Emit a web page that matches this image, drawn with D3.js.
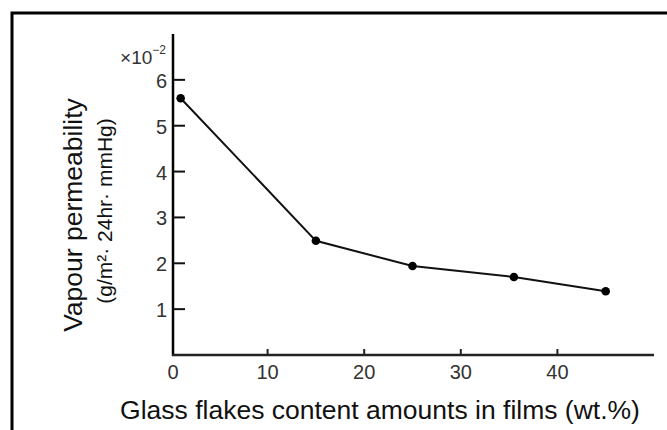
<!DOCTYPE html>
<html><head><meta charset="utf-8">
<script src="https://cdn.jsdelivr.net/npm/d3@7"></script>
<style>body{margin:0;background:#fff;}svg{display:block;font-family:"Liberation Sans",Arial,sans-serif;}</style>
</head><body>
<svg id="c" width="667" height="430"></svg>
<script>
const glassContent = [1, 15, 25, 35.5, 45];
const permeability = [5.6, 2.49, 1.94, 1.7, 1.39];
const xTicks = [0, 10, 20, 30, 40];
const yTicks = [1, 2, 3, 4, 5, 6];
const xTitle = "Glass flakes content amounts in films (wt.%)";
const yTitle1 = "Vapour permeability";
const yTitle2 = "(g/m²· 24hr· mmHg)";

const svg = d3.select("#c");
svg.append("rect").attr("x",12).attr("y",13).attr("width",700).attr("height",500)
  .attr("fill","none").attr("stroke","#000").attr("stroke-width",3);

const x = d3.scaleLinear().domain([0,50]).range([171,654]);
const y = d3.scaleLinear().domain([0,7]).range([355,34]);
const x0 = 173;

svg.append("line").attr("x1",x0).attr("x2",x0).attr("y1",y(7)).attr("y2",y(0)+1)
  .attr("stroke","#000").attr("stroke-width",2.5);
svg.append("line").attr("x1",x0-1).attr("x2",x.range()[1]).attr("y1",y(0)).attr("y2",y(0))
  .attr("stroke","#222").attr("stroke-width",2.5);

const yt = svg.append("g");
yTicks.forEach(v=>{
  yt.append("line").attr("x1",x0).attr("x2",x0+12).attr("y1",y(v)).attr("y2",y(v))
    .attr("stroke","#111").attr("stroke-width",2);
  yt.append("text").attr("x",x0-6).attr("y",y(v)+1).attr("text-anchor","end")
    .attr("dominant-baseline","central").attr("font-size",20).attr("fill","#333").text(v);
});
xTicks.forEach(v=>{
  if(v>0) svg.append("line").attr("x1",x(v)).attr("x2",x(v)).attr("y1",y(0)).attr("y2",y(0)-6)
    .attr("stroke","#222").attr("stroke-width",2);
  svg.append("text").attr("x",v===0?x0:x(v)).attr("y",372).attr("text-anchor","middle")
    .attr("dominant-baseline","central").attr("font-size",20).attr("fill","#333").text(v);
});
const m = svg.append("text").attr("x",166).attr("y",57).attr("text-anchor","end")
  .attr("dominant-baseline","central").attr("font-size",19).attr("fill","#333");
m.append("tspan").text("×10");
m.append("tspan").attr("dy",-7).attr("font-size",12).text("−2");

const pts = glassContent.map((g,i)=>[g,permeability[i]]);
svg.append("path").attr("d",d3.line().x(d=>x(d[0])).y(d=>y(d[1]))(pts))
  .attr("fill","none").attr("stroke","#111").attr("stroke-width",2);
svg.selectAll("circle.p").data(pts).enter().append("circle")
  .attr("cx",d=>x(d[0])).attr("cy",d=>y(d[1])).attr("r",4.3).attr("fill","#000");

svg.append("text").attr("x",380).attr("y",410).attr("text-anchor","middle")
  .attr("dominant-baseline","central").attr("font-size",26.5).attr("fill","#111").text(xTitle);
svg.append("text").attr("transform","translate(73,215) rotate(-90)").attr("text-anchor","middle")
  .attr("dominant-baseline","central").attr("font-size",26.5).attr("fill","#111").text(yTitle1);
svg.append("text").attr("transform","translate(104,211) rotate(-90)").attr("text-anchor","middle")
  .attr("dominant-baseline","central").attr("font-size",21).attr("fill","#111").text(yTitle2);
</script>
</body></html>
